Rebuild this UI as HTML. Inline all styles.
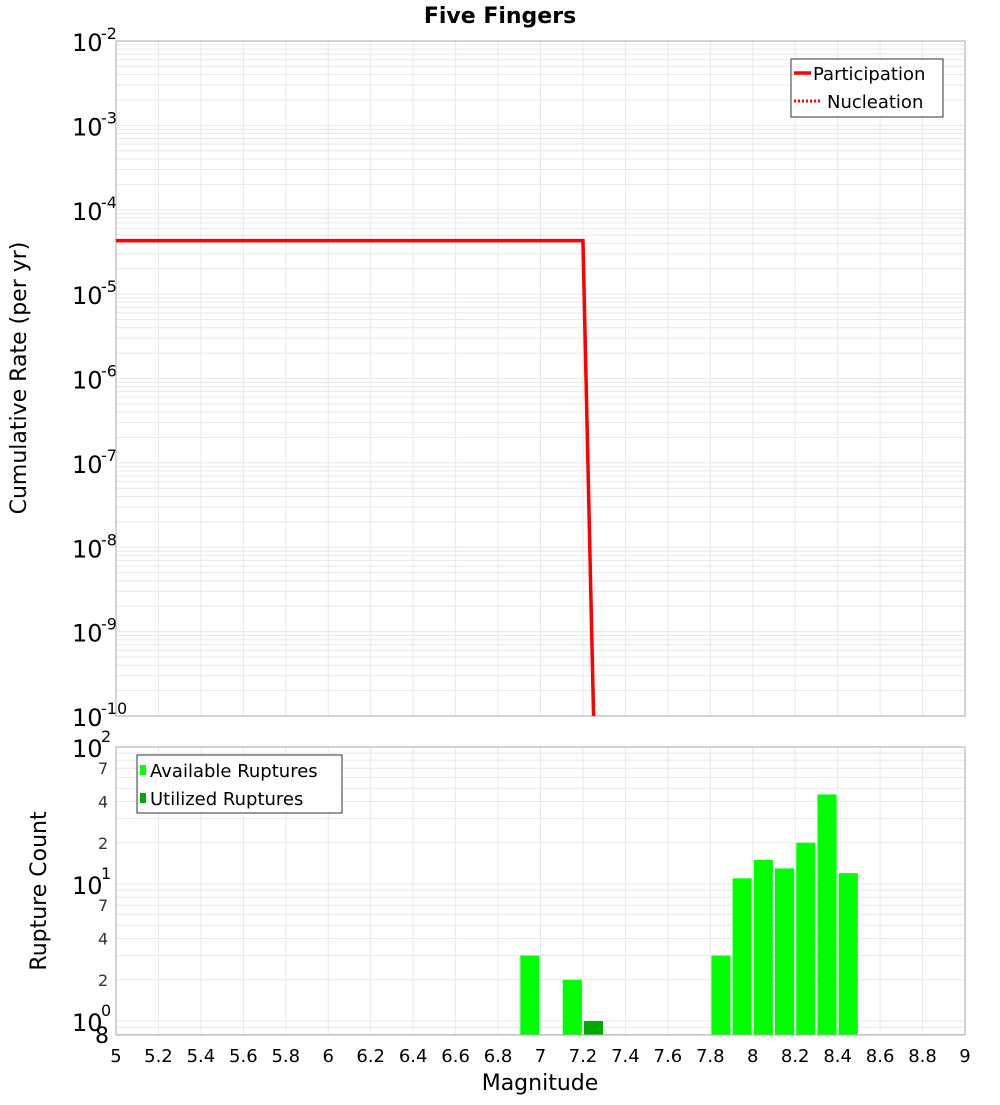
<!DOCTYPE html>
<html><head><meta charset="utf-8"><style>
body{margin:0;background:#fff;font-family:"Liberation Sans","DejaVu Sans",sans-serif}
svg text{font-family:"DejaVu Sans","Liberation Sans",sans-serif}
</style></head><body>
<svg id="c" width="1000" height="1100" xmlns="http://www.w3.org/2000/svg">
<text x="500" y="23" text-anchor="middle" font-size="22" font-weight="bold">Five Fingers</text>
<g id="topG"></g>
<g id="botG"></g>
<text transform="translate(26,378) rotate(-90)" text-anchor="middle" font-size="22">Cumulative Rate (per yr)</text>
<text transform="translate(46,891) rotate(-90)" text-anchor="middle" font-size="22">Rupture Count</text>
<text x="540" y="1090" text-anchor="middle" font-size="22">Magnitude</text>
</svg>
<script>
const partMags=[5,7.2,7.25];
const partRates=[4.3e-5,4.3e-5,1e-10];
const nuclMags=[5,7.2,7.25];
const nuclRates=[4.3e-5,4.3e-5,1e-10];
const barMags=[6.95,7.15,7.85,7.95,8.05,8.15,8.25,8.35,8.45];
const barCounts=[3,2,3,11,15,13,20,45,12];
const usedMags=[7.25];
const usedCounts=[1];
const xTicks=[5,5.2,5.4,5.6,5.8,6,6.2,6.4,6.6,6.8,7,7.2,7.4,7.6,7.8,8,8.2,8.4,8.6,8.8,9];
const topExps=[-2,-3,-4,-5,-6,-7,-8,-9,-10];
const botMinor=[2,4,7];

const NS="http://www.w3.org/2000/svg";
const X0=116,X1=965;
const xs=m=>X0+(m-5)/4*(X1-X0);
const T0=41,T1=716;
const yt=v=>T0+(-2-Math.log10(v))/8*(T1-T0);
const B0=747,B1=1035,BD=137,BY0=1021;
const yb=v=>BY0-Math.log10(v)*BD;
function mk(p,t,a,txt){const e=document.createElementNS(NS,t);for(const k in a)e.setAttribute(k,a[k]);if(txt!=null)e.textContent=txt;p.appendChild(e);return e;}
const topG=document.getElementById('topG'),botG=document.getElementById('botG');
for(let d=-10;d<-2;d++)for(let k=1;k<10;k++){const y=yt(k*Math.pow(10,d));
 const l=mk(topG,'line',{x1:X0,x2:X1,y1:y,y2:y,stroke:'#e8e8e8','stroke-width':1});
 
 }
for(const t of xTicks){const x=xs(t);
 const l=mk(topG,'line',{x1:x,x2:x,y1:T0,y2:T1,stroke:'#e8e8e8'});
 
 
 const l2=mk(botG,'line',{x1:x,x2:x,y1:B0,y2:B1,stroke:'#e8e8e8'});
 
 
 const tx=mk(botG,'text',{x:x,y:1062,'text-anchor':'middle','font-size':18},String(t));
 
 }
for(const e of topExps){const y=yt(Math.pow(10,e));
 const tx=mk(topG,'text',{x:72,y:y+10,'font-size':24},'10');
 
 
 const s=mk(topG,'text',{x:101,y:y-2,'font-size':16},String(e));
 
 }
mk(topG,'rect',{x:X0,y:T0,width:X1-X0,height:T1-T0,fill:'none',stroke:'#aaa'});
function pts(ms,vs){return ms.map((m,i)=>xs(m)+','+Math.min(yt(vs[i]),T1+20)).join(' ');}
const cp=mk(topG,'clipPath',{id:'cpt'});mk(cp,'rect',{x:X0,y:T0,width:X1-X0,height:T1-T0});
const nl=mk(topG,'polyline',{points:pts(nuclMags,nuclRates),fill:'none',stroke:'#f00','stroke-width':3,'stroke-dasharray':'2,2','clip-path':'url(#cpt)'});


const pl=mk(topG,'polyline',{points:pts(partMags,partRates),fill:'none',stroke:'#f00','stroke-width':3.5,'clip-path':'url(#cpt)'});


const lg=mk(topG,'g',{});


mk(lg,'rect',{x:791,y:59,width:152,height:58,fill:'#fff',stroke:'#333'});
mk(lg,'line',{x1:794,x2:811,y1:73,y2:73,stroke:'#f00','stroke-width':3.5});
mk(lg,'text',{x:813,y:80,'font-size':18},'Participation');
mk(lg,'line',{x1:794,x2:820,y1:101,y2:101,stroke:'#f00','stroke-width':3,'stroke-dasharray':'2,2'});
mk(lg,'text',{x:827,y:108,'font-size':18},'Nucleation');
for(let d=-1;d<2;d++)for(let k=1;k<10;k++){const v=k*Math.pow(10,d);const y=yb(v);if(y<B0||y>B1)continue;
 const l=mk(botG,'line',{x1:X0,x2:X1,y1:y,y2:y,stroke:'#e8e8e8'});
 
 }
for(let d=0;d<=2;d++){const y=yb(Math.pow(10,d));
 const tx=mk(botG,'text',{x:72,y:y+10,'font-size':24},'10');
 
 
 const s=mk(botG,'text',{x:101,y:y-5,'font-size':16},String(d));
 
 
 if(d<2)for(const k of botMinor){const m=mk(botG,'text',{x:98,y:yb(k*Math.pow(10,d))+6,'font-size':16,fill:'#333'},String(k));
 
 }}
const m8=mk(botG,'text',{x:95,y:1043,'font-size':22},'8');


function bars(ms,vs,col,nm){ms.forEach((m,i)=>{const x=xs(m-0.045),w=xs(m+0.045)-x,y=yb(vs[i]);
 const r=mk(botG,'rect',{x:x,y:y,width:w,height:B1-y,fill:col});
 
 });}
bars(barMags,barCounts,'#00ff00','available-bar');
bars(usedMags,usedCounts,'#00aa00','utilized-bar');
mk(botG,'rect',{x:X0,y:B0,width:X1-X0,height:B1-B0,fill:'none',stroke:'#aaa'});
const lg2=mk(botG,'g',{});


mk(lg2,'rect',{x:137,y:755,width:205,height:58,fill:'#fff',stroke:'#333'});
mk(lg2,'rect',{x:140,y:765,width:6,height:10,fill:'#00ff00'});
mk(lg2,'text',{x:150,y:777,'font-size':18},'Available Ruptures');
mk(lg2,'rect',{x:140,y:793,width:6,height:10,fill:'#00aa00'});
mk(lg2,'text',{x:150,y:805,'font-size':18},'Utilized Ruptures');
</script>
</body></html>
